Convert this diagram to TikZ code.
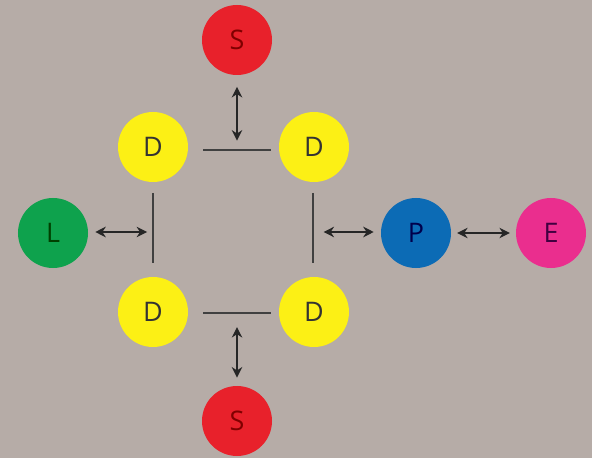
\documentclass[tikz,border=0pt]{standalone}
\usepackage{fontspec}
\setmainfont{Open Sans}
\usepackage{tikz}
\usetikzlibrary{arrows.meta}

\definecolor{bggrey}{HTML}{B6ACA7}
\definecolor{sred}{HTML}{E8212B}
\definecolor{dyellow}{HTML}{FCF015}
\definecolor{lgreen}{HTML}{0EA24D}
\definecolor{pblue}{HTML}{0C6BB5}
\definecolor{emagenta}{HTML}{EA2E8E}

\tikzset{
    ball/.style={circle, minimum size=2.1cm, inner sep=0pt,
        font=\fontsize{23}{27}\selectfont},
    link/.style={<->, >={Stealth[length=9pt, width=9pt]}, line width=1.1pt,
        black!85},
    bar/.style={line width=1.1pt, black!75}
}

\begin{document}
\begin{tikzpicture}[x=0.03cm, y=-0.03cm]
    % Fond
    \fill[bggrey] (0,0) rectangle (592,458);
    \useasboundingbox (0,0) rectangle (592,458);

    % Les cercles
    \node[ball, fill=sred, text=red!50!black] (stop) at (237,40) {S};
    \node[ball, fill=dyellow, text=black!80] (dtl) at (153,147) {D};
    \node[ball, fill=dyellow, text=black!80] (dtr) at (314,147) {D};
    \node[ball, fill=lgreen, text=green!25!black] (lft) at (53,233) {L};
    \node[ball, fill=pblue, text=blue!30!black] (pnode) at (416,233) {P};
    \node[ball, fill=emagenta, text=violet!50!black] (enode) at (551,233) {E};
    \node[ball, fill=dyellow, text=black!80] (dbl) at (153,312) {D};
    \node[ball, fill=dyellow, text=black!80] (dbr) at (314,312) {D};
    \node[ball, fill=sred, text=red!50!black] (sbot) at (237,421) {S};

    % Les barres
    \coordinate (btop) at (237,150);
    \coordinate (bbot) at (237,313);
    \coordinate (bleft) at (153,228);
    \coordinate (bright) at (313,228);
    \draw[bar] (btop) +(-34,0) -- +(34,0);
    \draw[bar] (bbot) +(-34,0) -- +(34,0);
    \draw[bar] (bleft) +(0,-35) -- +(0,35);
    \draw[bar] (bright) +(0,-35) -- +(0,35);

    % Les fleches
    \draw[link, shorten <=10pt, shorten >=8pt] (stop) -- (btop);
    \draw[link, shorten <=7pt, shorten >=12pt] (sbot) -- (bbot);
    \draw[link, shorten <=6pt] (lft.east |- 0,232) -- ([xshift=-5]bleft |- 0,232);
    \draw[link, shorten >=6pt] ([xshift=9]bright |- 0,232) -- (pnode.west |- 0,232);
    \draw[link, shorten <=5pt, shorten >=5pt] (pnode.east) -- (enode.west);
\end{tikzpicture}
\end{document}
